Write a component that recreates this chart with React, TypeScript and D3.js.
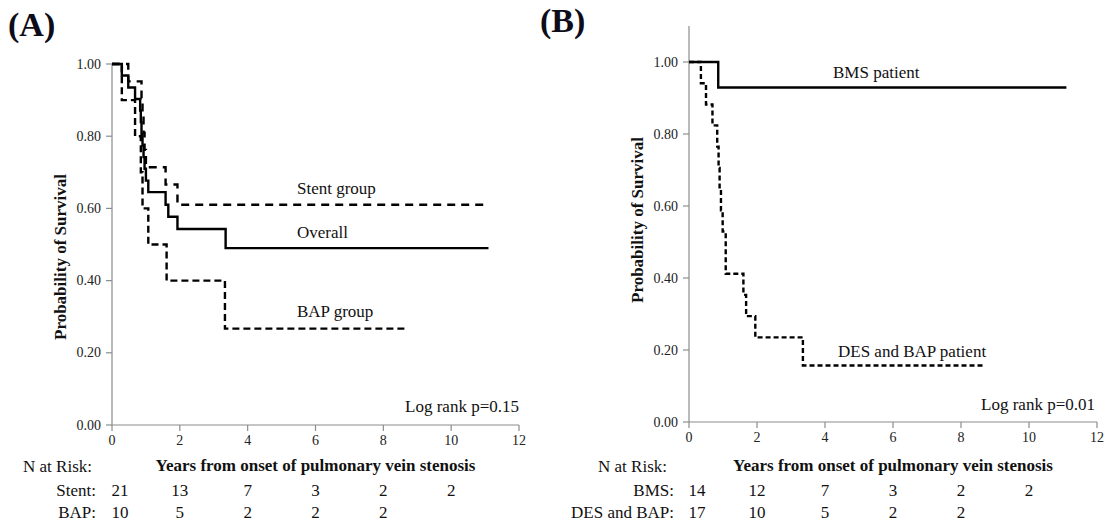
import React from "react";
import * as d3 from "d3";

// ---------- Data ----------
// Panel A
const overallTimes = [0, 0.29, 0.48, 0.68, 0.83, 0.85, 0.87, 0.9, 0.93, 0.96, 1.0, 1.07, 1.58, 1.66, 1.93, 3.35];
const overallSurv = [1, 0.968, 0.935, 0.903, 0.871, 0.839, 0.806, 0.774, 0.742, 0.71, 0.677, 0.645, 0.61, 0.577, 0.543, 0.49];
const overallEnd = 11.1;

const stentTimes = [0, 0.48, 0.87, 0.9, 0.93, 0.96, 1.0, 1.58, 1.93];
const stentSurv = [1, 0.952, 0.905, 0.857, 0.81, 0.762, 0.714, 0.666, 0.61];
const stentEnd = 11.0;

const bapTimes = [0, 0.29, 0.68, 0.85, 0.9, 1.07, 1.61, 3.33];
const bapSurv = [1, 0.9, 0.8, 0.7, 0.6, 0.5, 0.4, 0.267];
const bapEnd = 8.7;

// Panel B
const bmsTimes = [0, 0.86];
const bmsSurv = [1, 0.929];
const bmsEnd = 11.1;

const desTimes = [0, 0.35, 0.5, 0.69, 0.83, 0.87, 0.9, 0.94, 0.99, 1.08, 1.6, 1.68, 1.95, 3.35];
const desSurv = [1, 0.941, 0.882, 0.824, 0.765, 0.706, 0.647, 0.588, 0.529, 0.412, 0.353, 0.294, 0.235, 0.157];
const desEnd = 8.7;

// Axes / ticks
const xTicks = [0, 2, 4, 6, 8, 10, 12];
const yTicks = [0, 0.2, 0.4, 0.6, 0.8, 1.0];

// Risk tables
const riskTimes = [0, 2, 4, 6, 8, 10];
const stentRisk = [21, 13, 7, 3, 2, 2];
const bapRisk = [10, 5, 2, 2, 2];
const bmsRisk = [14, 12, 7, 3, 2, 2];
const desBapRisk = [17, 10, 5, 2, 2];

const SERIF = "Liberation Serif, DejaVu Serif, serif";

type Curve = { times: number[]; surv: number[]; end: number; dash?: string };

function stepPoints(times: number[], surv: number[], end: number): [number, number][] {
  const pts: [number, number][] = times.map((t, i) => [t, surv[i]]);
  pts.push([end, surv[surv.length - 1]]);
  return pts;
}

type PanelProps = {
  x0: number;
  x1: number;
  yBottom: number;
  yOne: number;
  yMax: number;
  curves: Curve[];
  labels: { text: string; x: number; y: number }[];
  logrank: string;
  logX: number;
  logY: number;
  yTitleX: number;
  yTitleY: number;
  letter: string;
  letterX: number;
  letterY: number;
  risk: { name: string; values: number[] }[];
  riskLabelX: number;
  nAtRiskX: number;
};

function T(props: any) {
  const { bold, size, style, ...rest } = props;
  return (
    <text
      {...rest}
      fill={props.fill || "#111"}
      style={{ fontFamily: SERIF, fontSize: size, fontWeight: bold ? "bold" : "normal", ...(style || {}) }}
    />
  );
}

function Panel(p: PanelProps) {
  const x = d3.scaleLinear().domain([0, 12]).range([p.x0, p.x1]);
  const y = d3.scaleLinear().domain([0, 1]).range([p.yBottom, p.yOne]);
  const line = d3
    .line<[number, number]>()
    .x((d) => x(d[0]))
    .y((d) => y(d[1]))
    .curve(d3.curveStepAfter);
  const axisColor = "#8c8c8c";
  const rowY = [496, 518];
  return (
    <g>
      <T x={p.letterX} y={p.letterY} bold size={34} fill="#0d0d1a">
        {p.letter}
      </T>
      {/* y axis */}
      <line x1={p.x0} x2={p.x0} y1={y(0)} y2={y(p.yMax)} stroke={axisColor} strokeWidth={1.2} />
      {yTicks.map((t) => (
        <g key={"y" + t}>
          <line x1={p.x0 - 6} x2={p.x0} y1={y(t)} y2={y(t)} stroke={axisColor} strokeWidth={1.2} />
          <T x={p.x0 - 11} y={y(t) + 4.5} textAnchor="end" size={14} fill="#222">
            {d3.format(".2f")(t)}
          </T>
        </g>
      ))}
      {/* x axis */}
      <line x1={p.x0} x2={p.x1} y1={y(0)} y2={y(0)} stroke={axisColor} strokeWidth={1.2} />
      {xTicks.map((t) => (
        <g key={"x" + t}>
          <line x1={x(t)} x2={x(t)} y1={y(0)} y2={y(0) + 6} stroke={axisColor} strokeWidth={1.2} />
          <T x={x(t)} y={y(0) + 20} textAnchor="middle" size={14} fill="#222">
            {t}
          </T>
        </g>
      ))}
      {/* curves */}
      {p.curves.map((c, i) => (
        <path
          key={i}
          d={line(stepPoints(c.times, c.surv, c.end)) || ""}
          fill="none"
          stroke="#000"
          strokeWidth={2.4}
          strokeDasharray={c.dash}
        />
      ))}
      {p.labels.map((l, i) => (
        <T key={i} x={l.x} y={l.y} size={17}>
          {l.text}
        </T>
      ))}
      <T x={p.logX} y={p.logY} textAnchor="end" size={17}>
        {p.logrank}
      </T>
      {/* titles */}
      <T
        transform={`translate(${p.yTitleX},${p.yTitleY}) rotate(-90)`}
        textAnchor="middle"
        bold
        size={17}
      >
        Probability of Survival
      </T>
      <T x={(p.x0 + p.x1) / 2} y={471} textAnchor="middle" bold size={17}>
        Years from onset of pulmonary vein stenosis
      </T>
      {/* risk table */}
      <T x={p.nAtRiskX} y={472} textAnchor="end" size={17}>
        N at Risk:
      </T>
      {p.risk.map((r, ri) => (
        <g key={r.name}>
          <T x={p.riskLabelX} y={rowY[ri]} textAnchor="end" size={17}>
            {r.name}
          </T>
          {r.values.map((v, vi) => (
            <T
              key={vi}
              x={x(riskTimes[vi]) + (vi === 0 ? 8 : 0)}
              y={rowY[ri]}
              textAnchor="middle"
              size={17}
            >
              {v}
            </T>
          ))}
        </g>
      ))}
    </g>
  );
}

export default function App() {
  return (
    <svg
      width={1110}
      height={524}
      style={{ position: "absolute", left: 0, top: 0, background: "#fff" }}
    >
      <rect width={1110} height={524} fill="#fff" />
      <Panel
        x0={112}
        x1={519}
        yBottom={425}
        yOne={64}
        yMax={1}
        curves={[
          { times: stentTimes, surv: stentSurv, end: stentEnd, dash: "8,6" },
          { times: bapTimes, surv: bapSurv, end: bapEnd, dash: "7,4" },
          { times: overallTimes, surv: overallSurv, end: overallEnd },
        ]}
        labels={[
          { text: "Stent group", x: 297, y: 194 },
          { text: "Overall", x: 297, y: 238 },
          { text: "BAP group", x: 297, y: 317 },
        ]}
        logrank="Log rank p=0.15"
        logX={519}
        logY={412}
        yTitleX={66}
        yTitleY={257}
        letter="(A)"
        letterX={8}
        letterY={36}
        risk={[
          { name: "Stent:", values: stentRisk },
          { name: "BAP:", values: bapRisk },
        ]}
        riskLabelX={96}
        nAtRiskX={92}
      />
      <Panel
        x0={689}
        x1={1097}
        yBottom={422}
        yOne={62}
        yMax={1.1}
        curves={[
          { times: bmsTimes, surv: bmsSurv, end: bmsEnd },
          { times: desTimes, surv: desSurv, end: desEnd, dash: "5,3" },
        ]}
        labels={[
          { text: "BMS patient", x: 833, y: 78 },
          { text: "DES and BAP patient", x: 838, y: 357 },
        ]}
        logrank="Log rank p=0.01"
        logX={1095}
        logY={410}
        yTitleX={643}
        yTitleY={220}
        letter="(B)"
        letterX={540}
        letterY={32}
        risk={[
          { name: "BMS:", values: bmsRisk },
          { name: "DES and BAP:", values: desBapRisk },
        ]}
        riskLabelX={674}
        nAtRiskX={667}
      />
    </svg>
  );
}
